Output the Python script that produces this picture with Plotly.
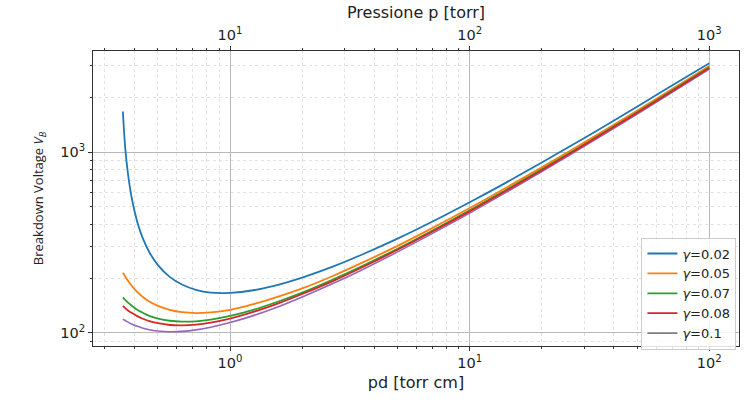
import plotly.graph_objects as go

# pd values [torr cm]
pd_vals = [0.357, 0.365, 0.375, 0.39, 0.41, 0.43, 0.46, 0.5, 0.56, 0.63, 0.72, 0.83,
           1.0, 1.25, 1.6, 2.0, 2.7, 3.6, 5.0, 7.0, 10, 14, 20, 30, 45, 65, 100]
v_002 = [1680, 1063, 757, 545, 411, 340, 280, 237, 204, 185, 173, 167,
         166.5, 172, 185, 202, 233, 273, 332, 413, 528, 672, 876, 1195, 1643, 2207, 3110]
v_005 = [215, 205, 194, 181, 168, 159, 149, 141, 134, 130, 128.6, 129.7,
         134, 144, 159, 176, 207, 246, 303, 381, 491, 629, 824, 1130, 1561, 2104, 3002]
v_007 = [157, 152, 147, 141, 134, 129.5, 124, 120, 116.6, 115.3, 115.8, 118.3,
         124, 134, 149.5, 167, 198, 236, 292, 368.5, 476, 612, 803, 1104, 1528, 2063, 2947]
v_008 = [140.8, 137, 133, 128.6, 123.7, 120, 116, 113, 110.5, 110, 111, 114,
         120, 130.5, 146, 164, 194, 232, 288, 363.5, 470, 605, 795, 1094, 1515, 2046, 2924]
v_010 = [119, 117, 114.6, 111.6, 108.6, 106.4, 104, 102.3, 101.3, 101.8, 103.8, 107.3,
         113.9, 124.5, 140, 158, 188, 225, 280.5, 355, 460, 593, 781, 1076, 1492, 2016, 2886]

series = [("0.02", v_002, "#1f77b4"), ("0.05", v_005, "#ff7f0e"),
          ("0.07", v_007, "#2ca02c"), ("0.08", v_008, "#d62728")]

x_major = [1, 10, 100]
x_major_text = ["10<sup>0</sup>", "10<sup>1</sup>", "10<sup>2</sup>"]
x_minor = [0.3, 0.4, 0.5, 0.6, 0.7, 0.8, 0.9, 2, 3, 4, 5, 6, 7, 8, 9,
           20, 30, 40, 50, 60, 70, 80, 90]
top_major = [10, 100, 1000]
top_major_text = ["10<sup>1</sup>", "10<sup>2</sup>", "10<sup>3</sup>"]
top_minor = [3, 4, 5, 6, 7, 8, 9, 20, 30, 40, 50, 60, 70, 80, 90,
             200, 300, 400, 500, 600, 700, 800, 900]
y_major = [100, 1000]
y_major_text = ["10<sup>2</sup>", "10<sup>3</sup>"]
y_minor = [90, 200, 300, 400, 500, 600, 700, 800, 900, 2000, 3000]

fig = go.Figure()
# purple curve (gamma = 0.1) drawn without its own legend entry
fig.add_trace(go.Scatter(x=pd_vals, y=v_010, mode="lines", line=dict(color="#9467bd", width=1.6, shape="spline"),
                         showlegend=False, hoverinfo="skip"))
for name, vals, col in series:
    fig.add_trace(go.Scatter(x=pd_vals, y=vals, mode="lines",
                             line=dict(color=col, width=1.8, shape="spline"),
                             name="<i>γ</i>=" + name))
fig.add_trace(go.Scatter(x=[None], y=[None], mode="lines", line=dict(color="#7f7f7f", width=1.8),
                         name="<i>γ</i>=0.1"))
# invisible trace on the top (pressure) axis: p = pd / 0.1 cm
fig.add_trace(go.Scatter(x=[v * 10 for v in pd_vals], y=v_002, xaxis="x2", mode="lines",
                         line=dict(color="rgba(0,0,0,0)"), showlegend=False, hoverinfo="skip"))

grid_major = "#b8b8b8"
grid_minor = "#e2e2e2"
font = dict(family="DejaVu Sans", size=13.5, color="#222")
tickfont = dict(family="DejaVu Sans", size=14.5, color="#222")

fig.update_layout(
    width=752, height=401,
    margin=dict(l=93, r=13, t=46, b=43),
    paper_bgcolor="white", plot_bgcolor="white",
    font=font,
    xaxis=dict(type="log", range=[-0.572, 2.124], tickmode="array", tickvals=x_major, ticktext=x_major_text,
               tickfont=tickfont,
               ticks="outside", ticklen=4, tickcolor="#333", showline=True, linecolor="#333", linewidth=1,
               showgrid=True, gridcolor=grid_major, gridwidth=1,
               minor=dict(tickmode="array", tickvals=x_minor, ticks="outside", ticklen=2, tickcolor="#333",
                          showgrid=True, gridcolor=grid_minor, gridwidth=1, griddash="dot"),
               title=dict(text="pd [torr cm]", standoff=6), zeroline=False),
    xaxis2=dict(type="log", overlaying="x", side="top", range=[0.428, 3.124], tickmode="array",
                tickvals=top_major, ticktext=top_major_text, tickfont=tickfont,
                ticks="outside", ticklen=4, tickcolor="#333",
                showline=True, linecolor="#333", linewidth=1, showgrid=False,
                minor=dict(tickmode="array", tickvals=top_minor, ticks="outside", ticklen=2, tickcolor="#333",
                           showgrid=False),
                title=dict(text="Pressione p [torr]", standoff=2), zeroline=False),
    yaxis=dict(type="log", range=[1.927, 3.56], tickmode="array", tickvals=y_major, ticktext=y_major_text,
               tickfont=tickfont,
               ticks="outside", ticklen=4, tickcolor="#333", showline=True, linecolor="#333", linewidth=1,
               mirror=True, showgrid=True, gridcolor=grid_major, gridwidth=1,
               minor=dict(tickmode="array", tickvals=y_minor, ticks="outside", ticklen=2, tickcolor="#333",
                          showgrid=True, gridcolor=grid_minor, gridwidth=1, griddash="dot"),
               title=dict(text="Breakdown Voltage <i>V</i><sub><i>B</i></sub>", standoff=13,
                          font=dict(family="Open Sans", size=13)), zeroline=False),
    legend=dict(x=0.996, y=-0.012, xanchor="right", yanchor="bottom", bgcolor="rgba(255,255,255,0.85)",
                bordercolor="#cccccc", borderwidth=1, font=dict(family="DejaVu Sans", size=13),
                tracegroupgap=0),
    showlegend=True,
)

fig.write_html("out.html")
